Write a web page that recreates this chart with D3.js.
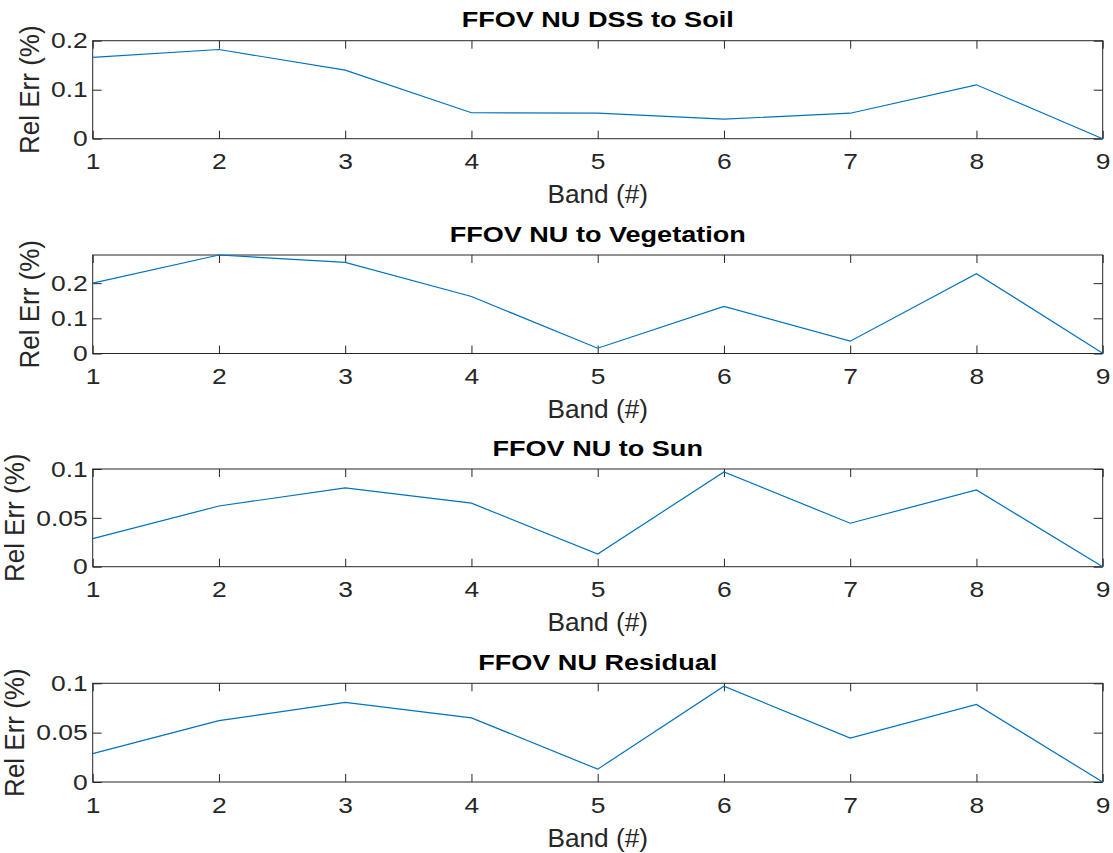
<!DOCTYPE html>
<html>
<head>
<meta charset="utf-8">
<script src="https://cdn.jsdelivr.net/npm/d3@7"></script>
<style>
  body { margin: 0; background: #fff; }
  svg { display: block; }
  text { font-family: "Liberation Sans", Arial, sans-serif; }
</style>
</head>
<body>
<svg id="chart" width="1113" height="853"></svg>
<script>
// values
var bands = [1, 2, 3, 4, 5, 6, 7, 8, 9];
var titles = ["FFOV NU DSS to Soil", "FFOV NU to Vegetation", "FFOV NU to Sun", "FFOV NU Residual"];
var soilErr = [0.166, 0.182, 0.140, 0.053, 0.052, 0.040, 0.052, 0.110, 0];
var vegErr = [0.200, 0.280, 0.259, 0.162, 0.015, 0.134, 0.035, 0.227, 0.001];
var sunErr = [0.0287, 0.0621, 0.0806, 0.065, 0.013, 0.097, 0.0445, 0.0785, 0];
var residualErr = [0.0287, 0.0621, 0.0806, 0.065, 0.013, 0.097, 0.0445, 0.0785, 0];
var yMax = [0.2, 0.28, 0.1, 0.1];
var yTicks = [[0, 0.1, 0.2], [0, 0.1, 0.2], [0, 0.05, 0.1], [0, 0.05, 0.1]];
var series = [soilErr, vegErr, sunErr, residualErr];

var axisColor = "#262626";
var lineColor = "#0072BD";

var left = 92.7, right = 1102.7;
var tops = [40.7, 255, 469, 683.3];
var bottoms = [138.7, 353.5, 566.7, 782];

var svg = d3.select("#chart");

var x = d3.scaleLinear().domain([1, 9]).range([left, right]);

function stretch(sel, sx){
  sel.each(function(){
    var t = d3.select(this);
    var tx = +t.attr("x") || 0, ty = +t.attr("y") || 0;
    t.attr("transform", `translate(${tx},${ty}) scale(${sx},1)`).attr("x", 0).attr("y", 0);
  });
}

function drawPanel(i){
  var top = tops[i], bottom = bottoms[i];
  var y = d3.scaleLinear().domain([0, yMax[i]]).range([bottom, top]);
  var g = svg.append("g").attr("class", "panel");

  // ticks on all four sides, pointing in
  var gx = g.append("g").attr("transform", `translate(0,${bottom})`)
    .call(d3.axisBottom(x).tickValues(bands).tickSizeInner(-8).tickSizeOuter(0).tickPadding(15).tickFormat(d3.format("d")));
  g.append("g").attr("transform", `translate(0,${top})`)
    .call(d3.axisTop(x).tickValues(bands).tickSizeInner(-8).tickSizeOuter(0).tickFormat(""));
  var gy = g.append("g").attr("transform", `translate(${left},0)`)
    .call(d3.axisLeft(y).tickValues(yTicks[i]).tickSizeInner(-9).tickSizeOuter(0).tickPadding(5).tickFormat(d => d === 0 ? "0" : String(d)));
  g.append("g").attr("transform", `translate(${right},0)`)
    .call(d3.axisRight(y).tickValues(yTicks[i]).tickSizeInner(-9).tickSizeOuter(0).tickFormat(""));

  g.selectAll(".domain").remove();
  g.selectAll(".tick line").attr("stroke", axisColor);
  g.selectAll(".tick text").attr("fill", axisColor).attr("font-size", 22).attr("font-family", null);
  gy.selectAll(".tick text").attr("dy", "0.33em");
  stretch(gx.selectAll(".tick text"), 1.2);
  stretch(gy.selectAll(".tick text"), 1.2);

  g.append("rect")
    .attr("x", left).attr("y", top)
    .attr("width", right - left).attr("height", bottom - top)
    .attr("fill", "none").attr("stroke", axisColor).attr("stroke-width", 1);

  var line = d3.line().x((d, j) => x(bands[j])).y(d => y(d));
  g.append("path")
    .datum(series[i])
    .attr("d", line)
    .attr("fill", "none")
    .attr("stroke", lineColor)
    .attr("stroke-width", 1.2);

  g.append("text")
    .attr("x", (left + right) / 2).attr("y", top - 13.4)
    .attr("text-anchor", "middle")
    .attr("font-size", 22).attr("font-weight", "bold")
    .attr("fill", "#000")
    .text(titles[i])
    .call(s => stretch(s, 1.23));

  g.append("text")
    .attr("x", (left + right) / 2).attr("y", bottom + 64.6)
    .attr("text-anchor", "middle")
    .attr("font-size", 25)
    .attr("fill", axisColor)
    .text("Band (#)")
    .call(s => stretch(s, 1.05));

  // y label sits left of the widest tick label
  var maxW = d3.max(gy.selectAll(".tick text").nodes(), n => n.getComputedTextLength() * 1.2);
  var lx = left - 5 - maxW - 12;
  g.append("text")
    .attr("transform", `translate(${lx},${(top + bottom) / 2}) scale(1.05,1) rotate(-90)`)
    .attr("text-anchor", "middle")
    .attr("font-size", 26)
    .attr("fill", axisColor)
    .text("Rel Err (%)");
}

titles.forEach((t, i) => drawPanel(i));
</script>
</body>
</html>
